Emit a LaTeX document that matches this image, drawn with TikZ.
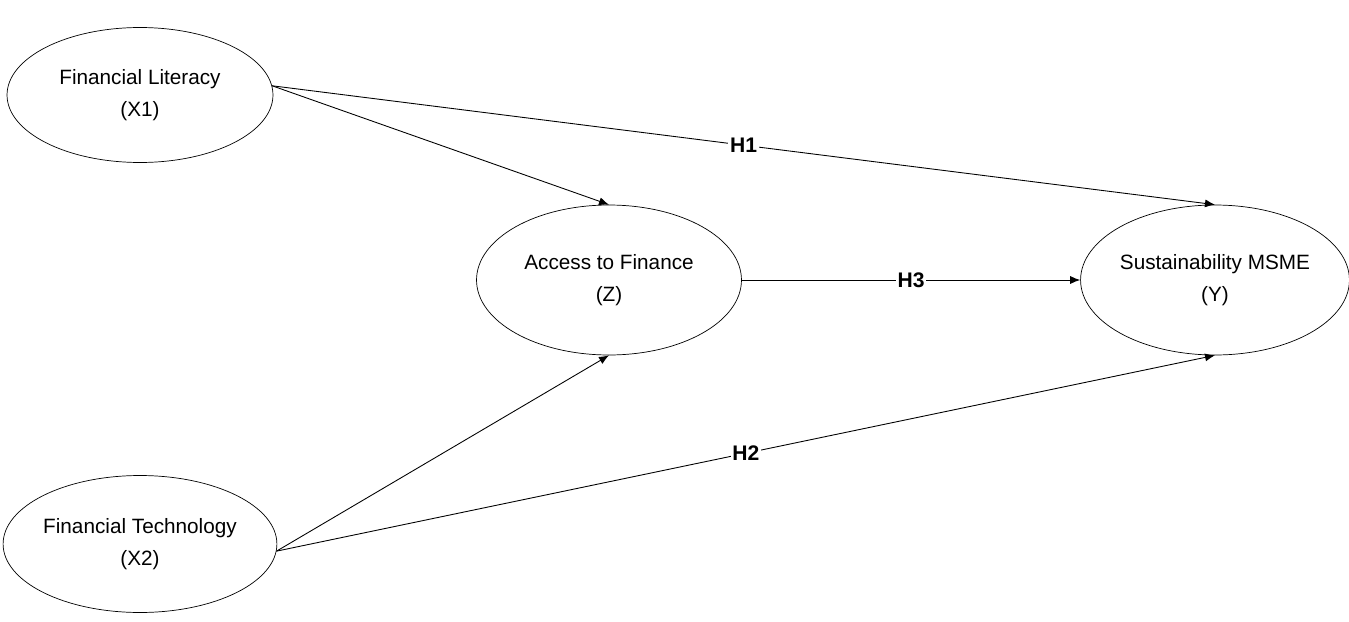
\documentclass[tikz,border=0pt]{standalone}
\usepackage{fontspec}
\setmainfont{Liberation Sans}
\usetikzlibrary{shapes.geometric,arrows.meta}
\tikzset{
  construct/.style={draw, ellipse, inner sep=0pt, align=center,
    font=\fontsize{11.8}{18}\selectfont},
  path/.style={-{Latex[length=2mm,width=1.6mm]}, line width=0.5pt},
  hyp/.style={fill=white, inner sep=1pt, font=\fontsize{12}{14}\selectfont\bfseries}
}
\begin{document}
\begin{tikzpicture}[x=0.02cm, y=-0.02cm]
        \useasboundingbox (0, 0) rectangle (1349, 622);
        \node[construct, minimum width=5.32cm, minimum height=2.7cm] (X1) at (140, 95) {Financial Literacy\\(X1)};
        \node[construct, minimum width=5.32cm, minimum height=2.74cm] (X2) at (140, 544) {Financial Technology\\(X2)};
        \node[construct, minimum width=5.3cm, minimum height=3cm] (Z) at (609, 280) {Access to Finance\\(Z)};
        \node[construct, minimum width=5.3cm, minimum height=3cm] (Y) at (1215, 280) {Sustainability MSME\\(Y)};
        \draw[path] (X1.4) to (Z.north);
        \draw[path] (X1.4) to node[hyp] {H1} (Y.north);
        \draw[path] (Z.east) to node[hyp] {H3} (Y.west);
        \draw[path] (X2.-3) to (Z.south);
        \draw[path] (X2.-3) to node[hyp] {H2} (Y.south);
    \end{tikzpicture}
\end{document}
